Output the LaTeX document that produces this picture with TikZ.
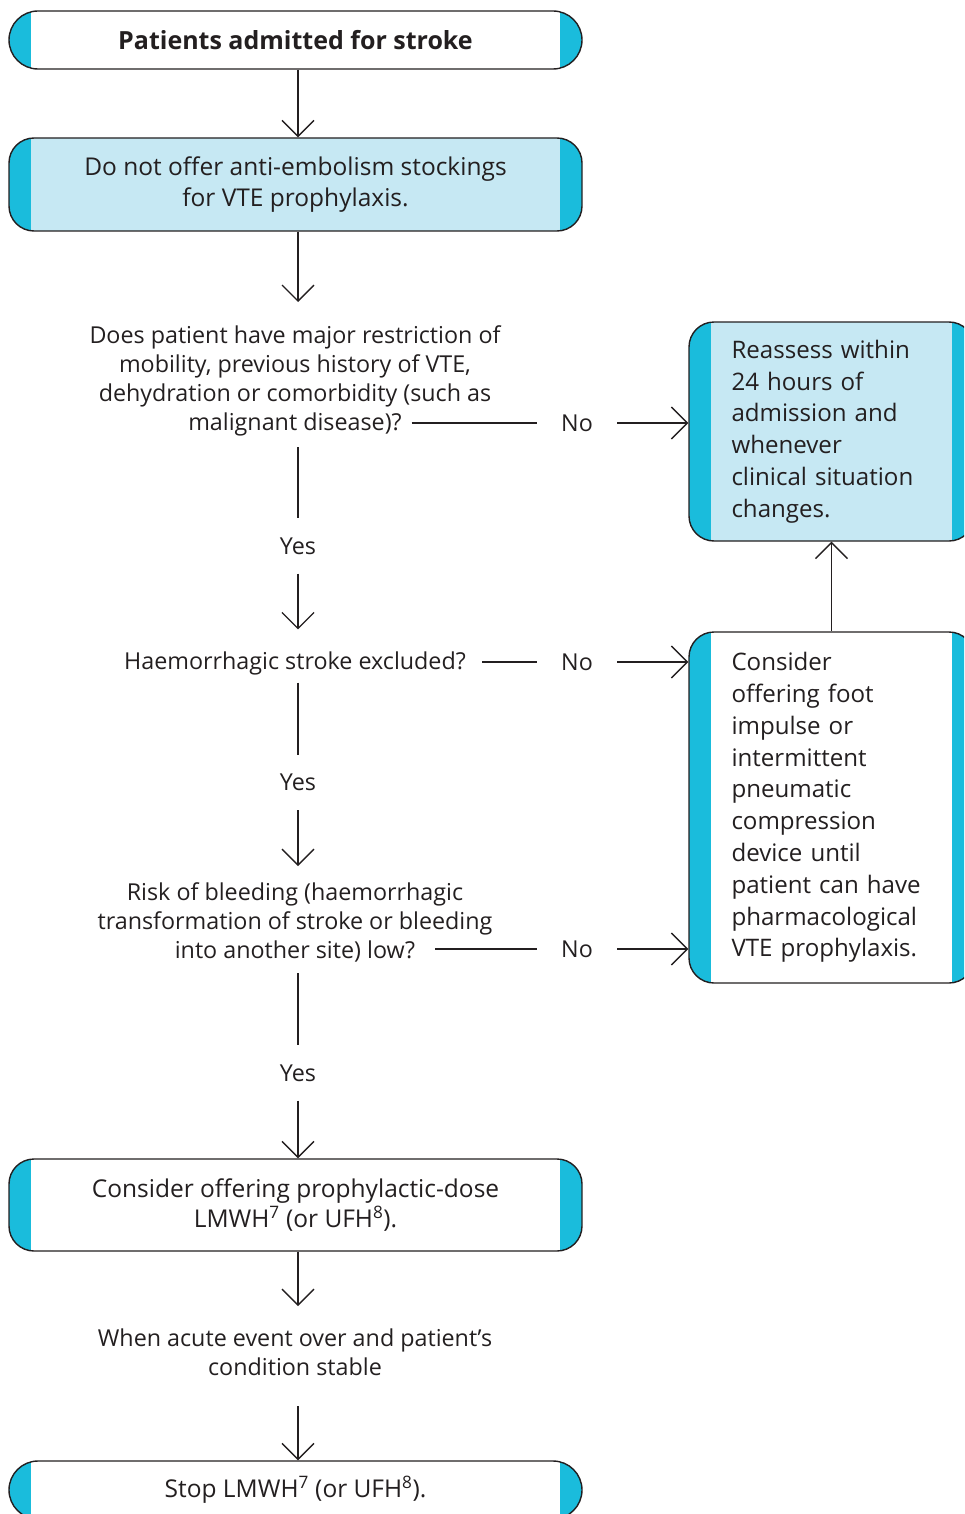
\documentclass[tikz,border=0pt]{standalone}
\usepackage{fontspec}
\setmainfont{Open Sans}
\usetikzlibrary{arrows.meta,calc}
\definecolor{band}{HTML}{1ABCDC}
\definecolor{lightband}{HTML}{C6E8F3}
\definecolor{ink}{HTML}{231F20}
\newcommand\qfont{\fontsize{23.3}{29}\selectfont}
\newcommand\bxfont{\fontsize{24.5}{30.5}\selectfont}
\newcommand\rfont{\fontsize{24.1}{31.8}\selectfont}
\newcommand\tfont{\bfseries\fontsize{25}{28}\selectfont}
\newlength\lastwa
\newlength\lastwb
\begin{document}
\settowidth{\lastwa}{\qfont malignant disease)?}%
\settowidth{\lastwb}{\qfont into another site) low?}%
\begin{tikzpicture}[x=1pt,y=-1pt, line width=1.3pt, color=ink, text=ink,
 arr/.style={-{Straight Barb[length=16pt,width=32pt]}},
 box/.style={draw=ink, line width=1.4pt, minimum width=573pt, inner sep=0pt, align=center, font=\bxfont,
   path picture={\fill[band, sharp corners] (path picture bounding box.north west) rectangle ([xshift=22pt]path picture bounding box.south west);
                 \fill[band, sharp corners] (path picture bounding box.north east) rectangle ([xshift=-22pt]path picture bounding box.south east);}},
 pill/.style={box, rounded corners=29pt, minimum height=58pt},
 rbox/.style={box, rounded corners=25pt, minimum height=93pt},
 side/.style={box, rounded corners=25pt, minimum width=285pt, text width=200pt, align=left, font=\rfont},
 qtext/.style={inner sep=0pt, align=center, font=\qfont},
 nolab/.style={inner ysep=0pt, inner xsep=24pt, font=\qfont},
 yeslab/.style={inner sep=0pt, minimum height=54pt, font=\qfont},
]
\useasboundingbox (0,0) rectangle (964,1514);
\clip (0,0) rectangle (964,1514);
\coordinate (col) at (298,0);

% boxes
\node[pill, fill=white, font=\tfont] (b1) at (295.5,40) {Patients admitted for stroke};
\node[rbox, fill=lightband] (b2) at (295.5,184.5) {Do not offer anti-embolism stockings\\for VTE prophylaxis.};
\node[side, fill=lightband, minimum height=219pt] (r1) at (831.5,431.5)
  {Reassess~within\\24~hours~of\\admission~and\\whenever\\clinical~situation\\changes.};
\node[side, fill=white, minimum height=351pt] (r2) at (831.5,807.5)
  {Consider\\offering~foot\\impulse~or\\intermittent\\pneumatic\\compression\\device~until\\patient~can~have\\pharmacological\\VTE~prophylaxis.};
\node[rbox, fill=white, minimum height=92pt] (b5) at (295.5,1205) {Consider offering prophylactic-dose\\LMWH\textsuperscript{7} (or UFH\textsuperscript{8}).};
\node[pill, fill=white] (b6) at (295.5,1490) {Stop LMWH\textsuperscript{7} (or UFH\textsuperscript{8}).};

% questions
\node[qtext, anchor=north] (q1) at (295,322.3) {\strut Does patient have major restriction of\\mobility, previous history of VTE,\\dehydration or comorbidity (such as\\malignant disease)?\strut};
\node[qtext, anchor=base, inner xsep=16pt] (q2) at (295,669.5) {\strut Haemorrhagic stroke excluded?};
\node[qtext, anchor=north] (q3) at (295,879.7) {\strut Risk of bleeding (haemorrhagic\\transformation of stroke or bleeding\\into another site) low?\strut};
\node[qtext, anchor=north] (q4) at (295,1325.4) {\strut When acute event over and patient’s\\condition stable\strut};

% labels
\node[nolab] (no1) at (577,423) {No};
\node[nolab] (no2) at (577,662) {No};
\node[nolab] (no3) at (577,949) {No};
\node[yeslab] (yes1) at (298,546) {Yes};
\node[yeslab] (yes2) at (298,782.5) {Yes};
\node[yeslab] (yes3) at (298,1073) {Yes};

% line start points after the last question lines
\coordinate (q1end) at ($(q1.south |- no1.west) + (0.5\lastwa+10pt,0)$);
\coordinate (q3end) at ($(q3.south |- no3.west) + (0.5\lastwb+20pt,0)$);

% vertical flow
\draw[arr] (b1.south -| col) -- (b2.north -| col);
\draw[arr] (b2.south -| col) -- ($(q1.north -| col)+(0,-20.3)$);
\draw ($(q1.south -| col)+(0,7.7)$) -- (yes1.north);
\draw[arr] (yes1.south) -- ($(q2.north -| col)+(0,-19.2)$);
\draw ($(q2.south -| col)+(0,3.8)$) -- (yes2.north);
\draw[arr] (yes2.south) -- ($(q3.north -| col)+(0,-13.7)$);
\draw ($(q3.south -| col)+(0,5.3)$) -- (yes3.north);
\draw[arr] (yes3.south) -- (b5.north -| col);
\draw[arr] (b5.south -| col) -- ($(q4.north -| col)+(0,-19.4)$);
\draw[arr] ($(q4.south -| col)+(0,21.6)$) -- (b6.north -| col);

% No branches
\draw (q1end) -- (no1.west);
\draw[arr] (no1.east) -- (no1.east -| r1.west);
\draw (q2.east |- no2.west) -- (no2.west);
\draw[arr] (no2.east) -- (no2.east -| r2.west);
\draw (q3end) -- (no3.west);
\draw[arr] (no3.east) -- (no3.east -| r2.west);
\draw[arr] (r2.north) -- (r1.south);
\end{tikzpicture}
\end{document}
